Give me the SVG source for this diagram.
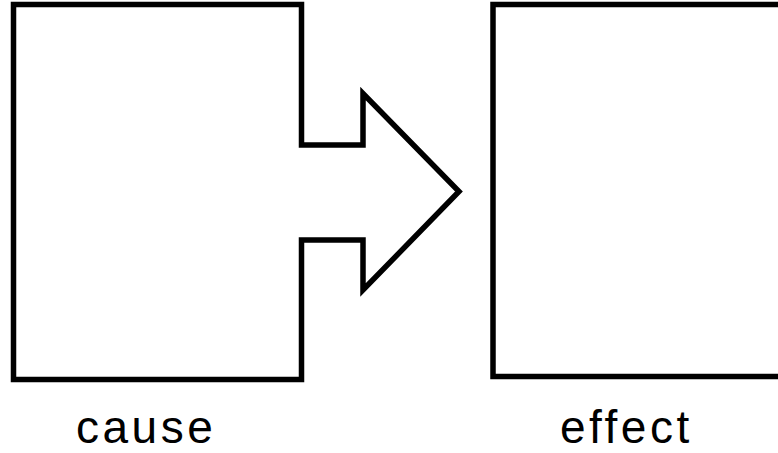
<svg xmlns="http://www.w3.org/2000/svg" width="778" height="453" viewBox="0 0 778 453">
  <style>
    .shape { fill: #ffffff; stroke: #000000; stroke-width: 5.5; stroke-linejoin: miter; }
    .label { font-family: "Liberation Sans", Arial, sans-serif; font-size: 46px; letter-spacing: 3.5px; fill: #000000; }
  </style>
  <rect width="778" height="453" fill="#ffffff"/>
  <!-- cause: square with a block arrow pushing out of its right side -->
  <g id="cause">
    <path class="shape" d="M13.5,4.5 H301.5 V145 H363 V93.5 L459,191.5 L363,290 V240 H301.5 V379.5 H13.5 Z"/>
    <text class="label" x="76" y="443">cause</text>
  </g>
  <!-- effect: square running off the right edge -->
  <g id="effect">
    <rect class="shape" x="493" y="4.5" width="300" height="372"/>
    <text class="label" x="560" y="443">effect</text>
  </g>
  <g id="connectors"/>
</svg>
